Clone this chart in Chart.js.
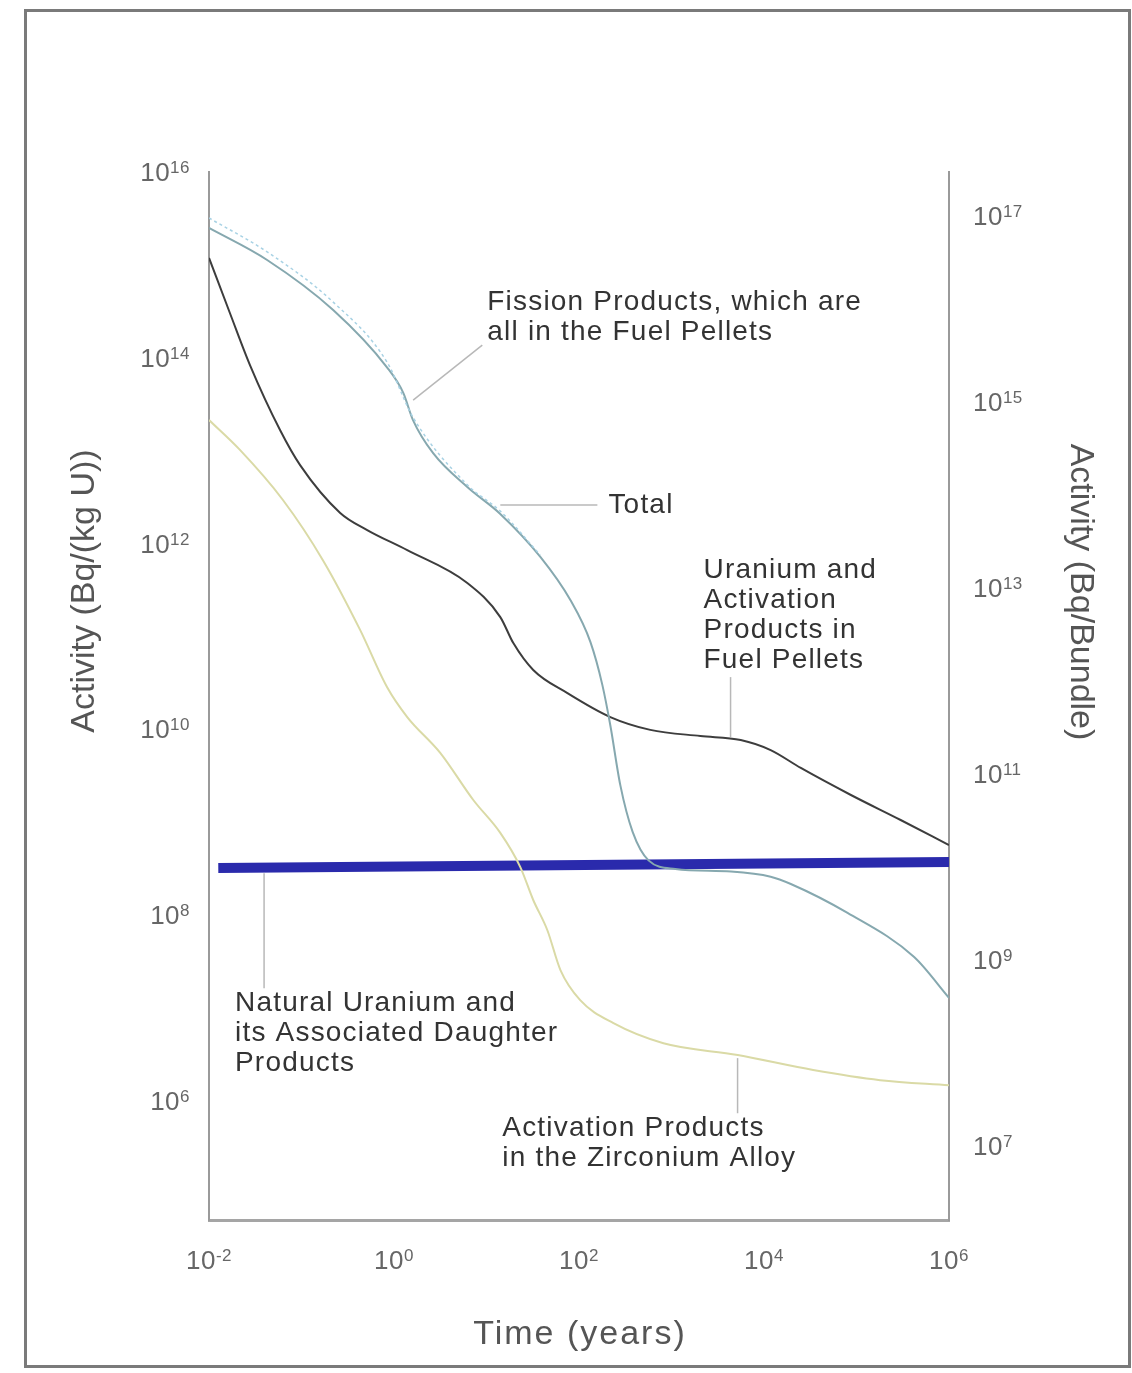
<!DOCTYPE html>
<html>
<head>
<meta charset="utf-8">
<script src="https://cdn.jsdelivr.net/npm/chart.js@4.4.1/dist/chart.umd.min.js"></script>
<style>
  body { margin: 0; background: #fff; }
  canvas { display: block; }
</style>
</head>
<body>
<canvas id="decayChart" width="1132" height="1373"></canvas>
<script>
const ctx = document.getElementById("decayChart");

// time in years, activity in Bq/(kg U)
var totalYears    = [0.01, 0.0425, 0.22, 0.84, 1.6, 6.2, 14, 38];
var totalActivity = [3.2e15, 1.38e15, 3.98e14, 9.0e13, 2.3e13, 4.3e12, 2.25e12, 7.6e11];

var fissionYears    = [0.01, 0.0425, 0.22, 0.84, 1.26, 1.6, 2.65, 6.2, 14, 38.2, 80.7, 133, 179, 218, 280, 380, 564, 1100, 4400, 11800, 19500, 80000, 420000, 1e6];
var fissionActivity = [2.5e15, 1.13e15, 3.27e14, 7.9e13, 4.2e13, 2.15e13, 9.4e12, 4.07e12, 2.1e12, 7.2e11, 2.47e11, 8.7e10, 3.0e10, 1.11e10, 2.5e9, 7.9e8, 3.9e8, 3.15e8, 2.95e8, 2.6e8, 2.17e8, 1.06e8, 3.55e7, 1.29e7];

var pelletYears    = [0.01, 0.0169, 0.0278, 0.0588, 0.0966, 0.262, 0.513, 1.39, 6.2, 14.1, 19.5, 32, 75, 218, 590, 2050, 5600, 11800, 25000, 87000, 300000, 1e6];
var pelletActivity = [1.19e15, 3.0e14, 8.3e13, 1.66e13, 7.0e12, 2.14e12, 1.4e12, 8.5e11, 3.77e11, 1.62e11, 8.5e10, 4.37e10, 2.46e10, 1.36e10, 9.9e9, 8.5e9, 7.7e9, 6.0e9, 3.85e9, 1.97e9, 1.06e9, 5.7e8];

var zircYears    = [0.01, 0.0216, 0.063, 0.171, 0.43, 0.84, 1.39, 3.16, 7.2, 14.1, 23.2, 32, 45.5, 63, 103, 236, 818, 5200, 34000, 180000, 1e6];
var zircActivity = [2.14e13, 1.02e13, 2.95e12, 6.6e11, 1.18e11, 2.86e10, 1.36e10, 5.6e9, 1.74e9, 7.7e8, 3.3e8, 1.46e8, 6.9e7, 2.57e7, 1.22e7, 6.9e6, 4.2e6, 3.13e6, 2.16e6, 1.68e6, 1.48e6];

var naturalYears    = [0.0126, 1e6];
var naturalActivity = [3.22e8, 3.74e8];

var leftTicks  = [1e6, 1e8, 1e10, 1e12, 1e14, 1e16];
var rightTicks = [1e7, 1e9, 1e11, 1e13, 1e15, 1e17];
var timeTicks  = [1e-2, 1, 1e2, 1e4, 1e6];

// callout texts, anchored in data units (years, Bq/(kg U))
var notes = [
  { lines: ["Fission Products, which are", "all in the Fuel Pellets"], at: [10.2, 4e14], leader: [[1.61, 3.5e13], [9.0, 1.37e14]] },
  { lines: ["Total"], at: [208, 2.6e12], leader: [[14.1, 2.6e12], [158, 2.6e12]] },
  { lines: ["Uranium and", "Activation", "Products in", "Fuel Pellets"], at: [2220, 5.2e11], leader: [[4350, 3.66e10], [4350, 8.3e9]] },
  { lines: ["Natural Uranium and", "its Associated Daughter", "Products"], at: [0.0191, 1.14e7], leader: [[0.0394, 2.84e8], [0.0394, 1.64e7]] },
  { lines: ["Activation Products", "in the Zirconium Alloy"], at: [14.8, 5.1e5], leader: [[5180, 2.9e6], [5180, 7.4e5]] }
];

const FONT = '"Liberation Sans", Arial, Helvetica, sans-serif';

function pts(xs, ys) {
  return xs.map((x, i) => ({ x: x, y: ys[i] }));
}

// "10" with a raised exponent
function drawPow(c, value, px, py, align) {
  var exp = String(Math.round(Math.log10(value)));
  c.letterSpacing = "0.5px";
  c.font = "26px " + FONT;
  var bw = c.measureText("10").width;
  c.font = "17px " + FONT;
  var ew = c.measureText(exp).width;
  var total = bw + ew;
  var left = align === "right" ? px - total : align === "left" ? px : px - total / 2;
  c.textAlign = "left";
  c.textBaseline = "alphabetic";
  c.font = "26px " + FONT;
  c.fillText("10", left, py + 9);
  c.font = "17px " + FONT;
  c.fillText(exp, left + bw, py + 1);
}

const textPlugin = {
  id: "texts",
  afterDraw(chart) {
    var c = chart.ctx;
    var sx = chart.scales.x, sy = chart.scales.y, sy2 = chart.scales.y2;
    c.save();

    // outer frame
    c.strokeStyle = "#7a7a7a";
    c.lineWidth = 3;
    c.strokeRect(25.5, 10.5, 1104, 1356);

    // tick labels
    c.fillStyle = "#666";
    sy.ticks.forEach(t => drawPow(c, t.value, 190, sy.getPixelForValue(t.value), "right"));
    sy2.ticks.forEach(t => drawPow(c, t.value, 973, sy2.getPixelForValue(t.value), "left"));
    sx.ticks.forEach(t => drawPow(c, t.value, sx.getPixelForValue(t.value), 1260, "center"));

    // axis titles
    c.fillStyle = "#555";
    c.font = "34px " + FONT;
    c.textAlign = "center";
    c.textBaseline = "middle";
    c.letterSpacing = "0px";
    c.save(); c.translate(85, 591); c.rotate(-Math.PI / 2);
    c.fillText("Activity (Bq/(kg U))", 0, 0); c.restore();
    c.save(); c.translate(1080, 592); c.rotate(Math.PI / 2);
    c.fillText("Activity (Bq/Bundle)", 0, 0); c.restore();
    c.letterSpacing = "2px";
    c.fillText("Time (years)", 580, 1335);

    // callouts
    c.letterSpacing = "1.2px";
    c.font = "28px " + FONT;
    c.textAlign = "left";
    c.fillStyle = "#333";
    notes.forEach(n => {
      c.strokeStyle = "#b8b8b8";
      c.lineWidth = 1.5;
      c.beginPath();
      c.moveTo(sx.getPixelForValue(n.leader[0][0]), sy.getPixelForValue(n.leader[0][1]));
      c.lineTo(sx.getPixelForValue(n.leader[1][0]), sy.getPixelForValue(n.leader[1][1]));
      c.stroke();
      var tx = sx.getPixelForValue(n.at[0]), ty = sy.getPixelForValue(n.at[1]);
      n.lines.forEach((s, i) => c.fillText(s, tx, ty + i * 30));
    });
    c.restore();
  }
};

new Chart(ctx, {
  type: "line",
  data: {
    datasets: [
      { label: "Total", data: pts(totalYears, totalActivity), borderColor: "rgb(168,210,228)", borderWidth: 1.5, borderDash: [3, 3] },
      { label: "Fission Products", data: pts(fissionYears, fissionActivity), borderColor: "rgb(134,168,175)", borderWidth: 2 },
      { label: "Uranium and Activation Products in Fuel Pellets", data: pts(pelletYears, pelletActivity), borderColor: "#3d3d3d", borderWidth: 2 },
      { label: "Activation Products in the Zirconium Alloy", data: pts(zircYears, zircActivity), borderColor: "rgb(218,218,166)", borderWidth: 2 },
      { label: "Natural Uranium and its Associated Daughter Products", data: pts(naturalYears, naturalActivity), borderColor: "rgb(42,42,172)", borderWidth: 10 }
    ]
  },
  options: {
    responsive: false,
    animation: false,
    layout: { padding: { top: 172, left: 0, right: 0, bottom: 0 } },
    elements: {
      point: { radius: 0 },
      line: { cubicInterpolationMode: "monotone", fill: false }
    },
    plugins: { legend: { display: false }, tooltip: { enabled: false } },
    scales: {
      x: {
        type: "logarithmic", position: "bottom", min: 1e-2, max: 1e6,
        grid: { display: false }, border: { color: "#a5a5a5", width: 3 },
        ticks: { display: false },
        afterBuildTicks: s => { s.ticks = timeTicks.map(v => ({ value: v })); },
        afterFit: s => { s.height = 153; }
      },
      y: {
        type: "logarithmic", position: "left", min: 5.25e4, max: 1e16,
        grid: { display: false }, border: { color: "#9a9a9a", width: 2 },
        ticks: { display: false },
        afterBuildTicks: s => { s.ticks = leftTicks.map(v => ({ value: v })); },
        afterFit: s => { s.width = 209; }
      },
      y2: {
        type: "logarithmic", position: "right", min: 1.585e6, max: 2.95e17,
        grid: { display: false }, border: { color: "#9a9a9a", width: 2 },
        ticks: { display: false },
        afterBuildTicks: s => { s.ticks = rightTicks.map(v => ({ value: v })); },
        afterFit: s => { s.width = 183; }
      }
    }
  },
  plugins: [textPlugin]
});
</script>
</body>
</html>
